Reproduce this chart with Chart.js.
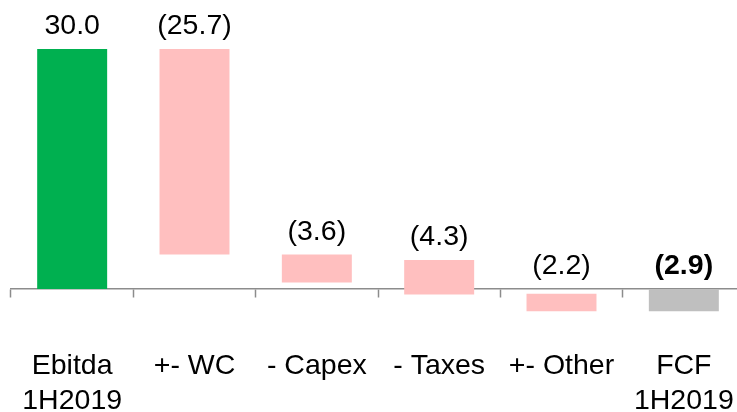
<!DOCTYPE html>
<html>
<head>
<meta charset="utf-8">
<script src="https://cdn.jsdelivr.net/npm/chart.js@4.4.1/dist/chart.umd.min.js"></script>
<style>
  html, body { margin: 0; padding: 0; background: #fff; overflow: hidden; }
  #wrap { width: 760px; height: 419px; }
</style>
</head>
<body>
<div id="wrap"><canvas id="myChart" width="760" height="419"></canvas></div>
<script>
// waterfall steps
var categories = [['Ebitda', '1H2019'], '+- WC', '- Capex', '- Taxes', '+- Other', ['FCF', '1H2019']];
var barFrom = [0, 30, 4.3, 3.6, -0.6, 0];
var barTo = [30, 4.3, 0.8, -0.7, -2.8, -2.8];
var valueLabels = ['30.0', '(25.7)', '(3.6)', '(4.3)', '(2.2)', '(2.9)'];
var boldLabel = [false, false, false, false, false, true];

var barColors = ['#00b050', '#ffbfbf', '#ffbfbf', '#ffbfbf', '#ffbfbf', '#bfbfbf'];
var fontFamily = '"Liberation Sans", Arial, sans-serif';
var fontSize = 28.5;

var floating = barFrom.map(function(v, i) { return [v, barTo[i]]; });

// write the value over each bar (or over the axis when the bar hangs below it)
var valueLabelPlugin = {
    id: 'valueLabels',
    afterDatasetsDraw: function(chart) {
        var ctx = chart.ctx;
        var yScale = chart.scales.y;
        var meta = chart.getDatasetMeta(0);
        var zeroY = yScale.getPixelForValue(0);
        ctx.save();
        ctx.fillStyle = '#000';
        ctx.textAlign = 'center';
        ctx.textBaseline = 'alphabetic';
        meta.data.forEach(function(bar, i) {
            var top = yScale.getPixelForValue(Math.max(barFrom[i], barTo[i]));
            var y = Math.min(top, zeroY) - 15;
            ctx.font = (boldLabel[i] ? 'bold ' : '') + fontSize + 'px ' + fontFamily;
            ctx.fillText(valueLabels[i], bar.x, y);
        });
        ctx.restore();
    }
};

const ctx = document.getElementById('myChart');
new Chart(ctx, {
    type: 'bar',
    data: {
        labels: categories,
        datasets: [{
            data: floating,
            backgroundColor: barColors,
            borderWidth: 0,
            barPercentage: 0.572,
            categoryPercentage: 1
        }]
    },
    options: {
        responsive: false,
        animation: false,
        layout: {
            padding: { top: 33, bottom: 0, left: 11, right: 15 }
        },
        plugins: {
            legend: { display: false },
            tooltip: { enabled: false }
        },
        scales: {
            // zero line with its tick marks
            x: {
                position: { y: 0 },
                offset: true,
                grid: {
                    offset: true,
                    drawOnChartArea: false,
                    drawTicks: true,
                    tickLength: 8,
                    tickWidth: 1.5,
                    tickColor: '#8c8c8c'
                },
                border: { color: '#8c8c8c', width: 1.5 },
                ticks: { display: false }
            },
            // category names at the bottom
            xLabels: {
                type: 'category',
                position: 'bottom',
                offset: true,
                grid: { display: false, drawTicks: false },
                border: { display: false },
                ticks: {
                    color: '#000',
                    padding: 0,
                    maxRotation: 0,
                    autoSkip: false,
                    font: { family: fontFamily, size: fontSize, lineHeight: 1.23 }
                }
            },
            y: {
                display: false,
                min: -7.5,
                max: 32
            }
        }
    },
    plugins: [valueLabelPlugin]
});
</script>
</body>
</html>
